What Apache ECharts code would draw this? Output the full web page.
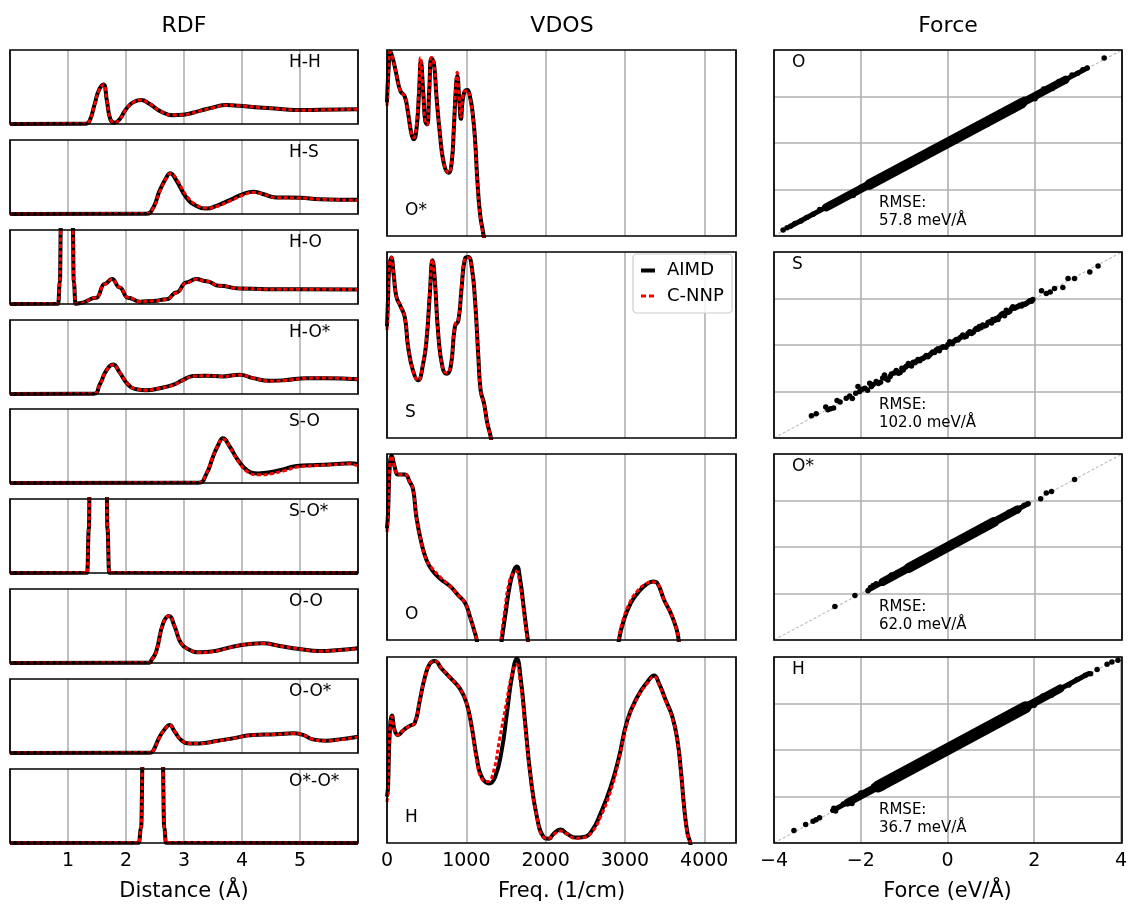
<!DOCTYPE html>
<html><head><meta charset="utf-8">
<script src="https://cdn.jsdelivr.net/npm/echarts@6/dist/echarts.min.js"></script>
<style>html,body{margin:0;padding:0;background:#fff}#c{width:1130px;height:907px}</style>
</head><body><div id="c"></div>
<script>
// ===================== DATA =====================
const columnTitles = ['RDF', 'VDOS', 'Force'];
const axisNames = ['Distance (Å)', 'Freq. (1/cm)', 'Force (eV/Å)'];
const seriesNames = ['AIMD', 'C-NNP'];

// ---- RDF g(r): [r (Å), g] ----
const rdfLabels = ['H-H', 'H-S', 'H-O', 'H-O*', 'S-O', 'S-O*', 'O-O', 'O-O*', 'O*-O*'];
const rdfTicks = [1, 2, 3, 4, 5];

const rdfHH_aimd = [[0,0],[1.3,0.02],[1.37,0.2],[1.46,1.35],[1.53,2.26],[1.61,2.67],[1.67,1.58],[1.73,0.32],[1.8,0.09],[1.89,0.32],[2.0,1.0],[2.12,1.46],[2.26,1.62],[2.41,1.35],[2.58,0.89],[2.81,0.59],[2.98,0.62],[3.27,0.89],[3.5,1.12],[3.73,1.28],[3.96,1.23],[4.3,1.12],[4.71,1.0],[5.0,0.94],[5.34,0.96],[6.0,1.0]];
const rdfHH_nnp  = [[0,0],[1.3,0.02],[1.37,0.2],[1.46,1.32],[1.53,2.24],[1.61,2.66],[1.67,1.6],[1.73,0.34],[1.8,0.1],[1.89,0.3],[2.0,0.98],[2.12,1.45],[2.26,1.62],[2.41,1.36],[2.58,0.9],[2.81,0.6],[2.98,0.62],[3.27,0.88],[3.5,1.1],[3.73,1.27],[3.96,1.24],[4.3,1.12],[4.71,1.0],[5.0,0.93],[5.34,0.95],[6.0,1.0]];

const rdfHS_aimd = [[0,0],[2.35,0.02],[2.47,0.43],[2.58,1.58],[2.7,2.49],[2.76,2.76],[2.87,2.26],[3.04,1.12],[3.21,0.55],[3.39,0.37],[3.56,0.55],[3.79,0.94],[4.02,1.35],[4.19,1.51],[4.36,1.35],[4.59,1.12],[5.0,1.1],[5.34,1.0],[6.0,0.96]];
const rdfHS_nnp  = [[0,0],[2.35,0.02],[2.47,0.4],[2.58,1.5],[2.7,2.45],[2.77,2.74],[2.88,2.3],[3.05,1.2],[3.22,0.6],[3.4,0.4],[3.57,0.52],[3.8,0.88],[4.03,1.3],[4.2,1.46],[4.37,1.33],[4.6,1.1],[5.0,1.08],[5.34,1.0],[6.0,0.93]];

const rdfHO_aimd = [[0,0],[0.83,0.01],[0.86,1.5],[0.88,6],[0.98,14],[1.08,6],[1.1,1.5],[1.13,0.02],[1.2,0.05],[1.49,0.43],[1.63,1.35],[1.76,1.69],[1.89,1.12],[2.03,0.43],[2.24,0.16],[2.47,0.2],[2.7,0.32],[2.87,0.78],[3.04,1.46],[3.21,1.69],[3.39,1.53],[3.61,1.23],[3.96,1.05],[4.42,1.0],[5.0,1.0],[6.0,0.98]];
const rdfHO_nnp  = [[0,0],[0.83,0.01],[0.86,1.5],[0.88,6],[0.98,14],[1.08,6],[1.1,1.5],[1.13,0.02],[1.2,0.05],[1.49,0.42],[1.63,1.33],[1.76,1.68],[1.89,1.13],[2.03,0.45],[2.24,0.17],[2.47,0.2],[2.7,0.31],[2.87,0.75],[3.04,1.42],[3.21,1.67],[3.39,1.54],[3.61,1.24],[3.96,1.05],[4.42,1.0],[5.0,1.0],[6.0,0.98]];

const rdfHOs_aimd = [[0,0],[1.44,0.02],[1.55,0.66],[1.66,1.58],[1.78,1.99],[1.89,1.46],[2.03,0.66],[2.18,0.32],[2.35,0.25],[2.58,0.39],[2.81,0.62],[2.98,0.94],[3.16,1.21],[3.39,1.23],[3.67,1.19],[3.96,1.3],[4.19,1.07],[4.48,0.89],[4.76,0.94],[5.11,1.07],[5.45,1.07],[6.0,1.0]];
const rdfHOs_nnp  = [[0,0],[1.44,0.02],[1.55,0.64],[1.66,1.56],[1.78,1.98],[1.89,1.47],[2.03,0.68],[2.18,0.33],[2.35,0.26],[2.58,0.39],[2.81,0.6],[2.98,0.92],[3.16,1.2],[3.39,1.24],[3.67,1.18],[3.96,1.29],[4.19,1.08],[4.48,0.88],[4.76,0.93],[5.11,1.06],[5.45,1.08],[6.0,1.0]];

const rdfSO_aimd = [[0,0],[3.25,0.02],[3.39,0.65],[3.5,1.78],[3.59,2.57],[3.67,3.02],[3.79,2.45],[3.93,1.55],[4.1,0.83],[4.28,0.65],[4.48,0.72],[4.71,0.92],[4.94,1.15],[5.28,1.22],[5.57,1.26],[5.86,1.33],[6.0,1.28]];
const rdfSO_nnp  = [[0,0],[3.25,0.02],[3.38,0.6],[3.49,1.7],[3.58,2.5],[3.67,2.98],[3.8,2.35],[3.94,1.45],[4.1,0.75],[4.3,0.55],[4.5,0.62],[4.72,0.82],[4.95,1.08],[5.28,1.18],[5.57,1.24],[5.86,1.3],[6.0,1.12]];

const rdfSOs_aimd = [[0,0],[1.33,0.01],[1.36,3],[1.38,10],[1.52,25],[1.66,10],[1.68,3],[1.71,0.01],[6.0,0]];
const rdfSOs_nnp  = [[0,0],[1.33,0.01],[1.36,3],[1.38,10],[1.52,25],[1.66,10],[1.68,3],[1.71,0.01],[6.0,0]];

const rdfOO_aimd = [[0,0],[2.4,0.02],[2.44,0.2],[2.52,0.77],[2.64,2.68],[2.74,3.18],[2.84,2.45],[2.95,1.33],[3.1,0.88],[3.27,0.72],[3.56,0.83],[3.84,1.1],[4.13,1.28],[4.36,1.33],[4.65,1.15],[4.99,0.95],[5.34,0.81],[5.68,0.88],[6.0,0.99]];
const rdfOO_nnp  = [[0,0],[2.4,0.02],[2.44,0.2],[2.52,0.75],[2.64,2.66],[2.74,3.17],[2.84,2.47],[2.95,1.35],[3.1,0.88],[3.27,0.71],[3.56,0.82],[3.84,1.09],[4.13,1.28],[4.36,1.32],[4.65,1.15],[4.99,0.95],[5.34,0.8],[5.68,0.87],[6.0,0.98]];

const rdfOOs_aimd = [[0,0],[2.42,0.02],[2.47,0.16],[2.58,1.1],[2.68,1.67],[2.75,1.89],[2.84,1.44],[2.95,0.88],[3.1,0.65],[3.27,0.65],[3.56,0.81],[3.84,0.99],[4.19,1.22],[4.59,1.26],[4.88,1.33],[5.05,1.22],[5.22,0.92],[5.45,0.83],[5.68,0.92],[6.0,1.1]];
const rdfOOs_nnp  = [[0,0],[2.42,0.02],[2.47,0.15],[2.58,1.07],[2.68,1.65],[2.75,1.88],[2.84,1.45],[2.95,0.9],[3.1,0.65],[3.27,0.64],[3.56,0.8],[3.84,0.98],[4.19,1.21],[4.59,1.26],[4.88,1.32],[5.05,1.23],[5.22,0.93],[5.45,0.82],[5.68,0.9],[6.0,1.08]];

const rdfOsOs_aimd = [[0,0],[2.22,0.01],[2.26,1.0],[2.29,6],[2.46,25],[2.63,6],[2.66,1.0],[2.69,0.01],[6.0,0]];
const rdfOsOs_nnp  = [[0,0],[2.22,0.01],[2.26,1.0],[2.29,6],[2.46,25],[2.63,6],[2.66,1.0],[2.69,0.01],[6.0,0]];

// ---- VDOS: [frequency (1/cm), normalised intensity] ----
const vdosLabels = ['O*', 'S', 'O', 'H'];
const vdosTicks = [0, 1000, 2000, 3000, 4000];

const vdosOs_aimd = [[0,0.72],[20,0.9],[42,0.99],[76,0.95],[118,0.87],[169,0.78],[224,0.75],[266,0.66],[308,0.55],[338,0.52],[371,0.57],[405,0.78],[426,0.94],[456,0.78],[481,0.62],[506,0.6],[532,0.78],[561,0.955],[591,0.93],[624,0.75],[667,0.55],[717,0.39],[776,0.34],[814,0.39],[844,0.59],[869,0.8],[886,0.86],[911,0.73],[932,0.63],[954,0.73],[983,0.78],[1013,0.785],[1046,0.75],[1080,0.66],[1110,0.52],[1139,0.3],[1173,0.12],[1215,0.01],[1250,-0.1],[1300,-0.3]];
const vdosOs_nnp  = [[0,0.7],[20,0.9],[42,0.99],[76,0.95],[118,0.87],[169,0.78],[224,0.75],[266,0.66],[308,0.55],[338,0.53],[371,0.6],[405,0.82],[422,0.96],[450,0.8],[481,0.61],[506,0.6],[532,0.78],[561,0.96],[591,0.93],[624,0.75],[667,0.55],[717,0.39],[776,0.34],[814,0.4],[844,0.62],[869,0.82],[884,0.88],[911,0.74],[932,0.64],[954,0.74],[983,0.78],[1013,0.78],[1046,0.74],[1080,0.65],[1110,0.5],[1139,0.29],[1173,0.11],[1215,0.0],[1250,-0.1],[1300,-0.3]];

const vdosS_aimd = [[0,0.6],[13,0.75],[25,0.9],[55,0.97],[84,0.88],[118,0.76],[169,0.71],[224,0.65],[266,0.49],[329,0.36],[392,0.31],[456,0.4],[498,0.525],[540,0.776],[574,0.955],[603,0.85],[646,0.56],[700,0.38],[751,0.346],[802,0.38],[857,0.6],[899,0.63],[941,0.81],[983,0.964],[1025,0.973],[1068,0.92],[1110,0.74],[1152,0.435],[1181,0.256],[1224,0.185],[1266,0.077],[1308,0.005],[1340,-0.1],[1400,-0.3]];
const vdosS_nnp  = [[0,0.58],[13,0.74],[25,0.9],[55,0.97],[84,0.88],[118,0.76],[169,0.71],[224,0.65],[266,0.49],[329,0.36],[392,0.31],[456,0.41],[498,0.54],[540,0.79],[572,0.96],[603,0.84],[646,0.55],[700,0.38],[751,0.35],[802,0.39],[857,0.61],[899,0.64],[941,0.82],[983,0.965],[1025,0.97],[1068,0.91],[1110,0.73],[1152,0.43],[1181,0.25],[1224,0.18],[1266,0.075],[1308,0.0],[1340,-0.1],[1400,-0.3]];

const vdosO_aimd = [[0,0.6],[13,0.68],[34,0.93],[59,0.99],[97,0.93],[139,0.89],[224,0.89],[287,0.85],[329,0.81],[371,0.66],[435,0.52],[498,0.43],[561,0.38],[667,0.33],[793,0.29],[899,0.24],[983,0.2],[1046,0.126],[1097,0.054],[1131,0],[1180,-0.15],[1300,-0.4],[1400,-0.15],[1447,0],[1489,0.126],[1553,0.305],[1603,0.377],[1637,0.395],[1679,0.323],[1722,0.18],[1764,0.036],[1776,0],[1820,-0.15],[2500,-0.5],[2880,-0.15],[2924,0],[2987,0.108],[3072,0.197],[3156,0.25],[3262,0.296],[3359,0.314],[3409,0.305],[3494,0.215],[3578,0.144],[3641,0.072],[3671,0.018],[3700,-0.1],[3800,-0.3]];
const vdosO_nnp  = [[0,0.58],[13,0.68],[34,0.93],[59,0.99],[97,0.93],[139,0.89],[224,0.89],[287,0.85],[329,0.81],[371,0.66],[435,0.52],[498,0.43],[561,0.39],[667,0.34],[793,0.29],[899,0.24],[983,0.2],[1046,0.126],[1097,0.054],[1131,0],[1180,-0.15],[1300,-0.4],[1390,-0.15],[1435,0],[1478,0.14],[1545,0.32],[1600,0.362],[1630,0.37],[1672,0.31],[1715,0.18],[1760,0.03],[1776,0],[1820,-0.15],[2500,-0.5],[2875,-0.15],[2918,0],[2982,0.115],[3065,0.205],[3150,0.26],[3255,0.3],[3350,0.312],[3405,0.305],[3490,0.22],[3575,0.147],[3641,0.07],[3671,0.015],[3700,-0.1],[3800,-0.3]];

const vdosH_aimd = [[0,0.25],[13,0.3],[34,0.59],[63,0.686],[97,0.605],[139,0.58],[203,0.605],[287,0.63],[350,0.645],[414,0.767],[477,0.89],[540,0.964],[603,0.978],[688,0.937],[793,0.89],[920,0.83],[1004,0.75],[1068,0.624],[1131,0.46],[1194,0.355],[1287,0.32],[1363,0.355],[1447,0.5],[1511,0.695],[1574,0.89],[1637,0.99],[1688,0.875],[1743,0.64],[1806,0.373],[1890,0.14],[1975,0.032],[2038,0.023],[2101,0.05],[2186,0.073],[2270,0.05],[2376,0.029],[2481,0.032],[2586,0.068],[2692,0.158],[2819,0.3],[2924,0.46],[3030,0.66],[3156,0.785],[3283,0.866],[3367,0.9],[3430,0.857],[3515,0.767],[3599,0.677],[3662,0.55],[3705,0.39],[3747,0.19],[3789,0.05],[3823,0],[3860,-0.15],[3950,-0.4]];
const vdosH_nnp  = [[0,0.22],[13,0.3],[34,0.59],[63,0.68],[97,0.605],[139,0.58],[203,0.605],[287,0.63],[350,0.645],[414,0.77],[477,0.89],[540,0.965],[603,0.978],[688,0.94],[793,0.89],[920,0.83],[1004,0.75],[1068,0.62],[1131,0.44],[1194,0.345],[1270,0.33],[1340,0.38],[1420,0.56],[1500,0.74],[1570,0.9],[1630,0.96],[1682,0.86],[1740,0.63],[1806,0.37],[1890,0.14],[1975,0.03],[2038,0.025],[2101,0.045],[2186,0.065],[2270,0.048],[2376,0.025],[2481,0.03],[2586,0.06],[2692,0.14],[2819,0.28],[2924,0.45],[3030,0.65],[3156,0.78],[3283,0.86],[3367,0.895],[3430,0.85],[3515,0.76],[3599,0.67],[3662,0.545],[3705,0.385],[3747,0.185],[3789,0.045],[3823,0],[3860,-0.15],[3950,-0.4]];

// ---- Force parity: [AIMD force, C-NNP force] (eV/Å) ----
const forceLabels = ['O', 'S', 'O*', 'H'];
const forceRMSE = ['57.8 meV/Å', '102.0 meV/Å', '62.0 meV/Å', '36.7 meV/Å'];
const forceTicks = [-4, -2, 0, 2, 4];
const diagLine = [[-4, -4], [4, 4]];

// extents of the dense, overlapping parts of each point cloud (thin / medium / thick)
const forceO_dense  = [[[-3.6,-3.56],[3.2,3.22]], [[-2.8,-2.77],[2.7,2.72]], [[-1.8,-1.78],[1.7,1.72]]];
const forceS_dense  = [];
const forceOs_dense = [[[-1.82,-1.84],[1.84,1.86]], [[-1.5,-1.5],[1.6,1.62]], [[-0.9,-0.9],[1.05,1.07]]];
const forceH_dense  = [[[-2.65,-2.6],[3.25,3.28]], [[-2.3,-2.26],[2.6,2.64]], [[-1.6,-1.57],[1.8,1.84]]];

const forceO_pts = [[-3.79,-3.74],[-3.7,-3.64],[-3.62,-3.58],[-3.52,-3.46],[-3.38,-3.36],[-3.25,-3.2],[-3.1,-3.06],[-2.95,-2.86],[-2.82,-2.8],[-2.7,-2.62],[-2.55,-2.52],[-2.42,-2.34],[-2.3,-2.22],[-2.18,-2.26],[-2.0,-1.9],[-1.8,-1.88],[-1.6,-1.48],[-1.3,-1.38],[-1.05,-0.92],[-0.7,-0.78],[-0.4,-0.28],[0.2,0.1],[0.5,0.62],[0.9,0.8],[1.2,1.32],[1.5,1.4],[1.75,1.88],[2.0,1.9],[2.2,2.32],[2.4,2.34],[2.55,2.64],[2.7,2.66],[2.85,2.93],[2.98,3.0],[3.1,3.15],[3.2,3.23],[3.59,3.66]];
const forceS_pts = [[-3.14,-3.04],[-3.03,-2.96],[-2.81,-2.67],[-2.76,-2.79],[-2.7,-2.74],[-2.63,-2.71],[-2.55,-2.39],[-2.48,-2.45],[-2.34,-2.29],[-2.26,-2.19],[-2.2,-2.3],[-2.12,-2.08],[-2.07,-1.79],[-2.03,-2.0],[-1.97,-1.9],[-1.91,-1.86],[-1.85,-1.95],[-1.8,-1.64],[-1.76,-1.78],[-1.72,-1.7],[-1.65,-1.57],[-1.6,-1.66],[-1.55,-1.6],[-1.5,-1.42],[-1.46,-1.29],[-1.42,-1.45],[-1.38,-1.5],[-1.33,-1.35],[-1.3,-1.25],[-1.24,-1.2],[-1.19,-1.1],[-1.14,-1.22],[-1.1,-1.18],[-1.06,-1.0],[-1.03,-1.07],[-0.98,-0.96],[-0.95,-0.9],[-0.91,-0.8],[-0.88,-0.86],[-0.84,-0.9],[-0.8,-0.74],[-0.76,-0.76],[-0.73,-0.71],[-0.69,-0.62],[-0.65,-0.68],[-0.61,-0.6],[-0.57,-0.57],[-0.53,-0.52],[-0.5,-0.45],[-0.46,-0.5],[-0.42,-0.43],[-0.38,-0.36],[-0.35,-0.3],[-0.31,-0.32],[-0.27,-0.21],[-0.23,-0.16],[-0.2,-0.25],[-0.15,-0.12],[-0.11,-0.07],[-0.05,-0.1],[0.0,0.02],[0.04,0.14],[0.07,0.1],[0.1,0.05],[0.15,0.17],[0.19,0.24],[0.23,0.22],[0.27,0.3],[0.31,0.36],[0.34,0.43],[0.38,0.34],[0.42,0.38],[0.46,0.5],[0.5,0.57],[0.54,0.5],[0.58,0.55],[0.62,0.64],[0.65,0.71],[0.69,0.68],[0.72,0.8],[0.76,0.74],[0.8,0.86],[0.84,0.82],[0.88,0.85],[0.92,0.97],[0.96,1.0],[1.0,0.95],[1.03,1.1],[1.07,1.05],[1.11,1.14],[1.15,1.1],[1.18,1.22],[1.22,1.3],[1.26,1.36],[1.3,1.26],[1.34,1.5],[1.38,1.4],[1.42,1.45],[1.46,1.56],[1.49,1.64],[1.53,1.58],[1.57,1.62],[1.61,1.66],[1.65,1.71],[1.69,1.68],[1.72,1.75],[1.76,1.74],[1.8,1.79],[1.84,1.84],[1.88,1.9],[1.92,1.88],[1.95,1.96],[2.15,2.33],[2.26,2.21],[2.35,2.28],[2.45,2.43],[2.64,2.47],[2.76,2.86],[2.91,2.86],[3.26,3.14],[3.45,3.4]];
const forceOs_pts = [[-2.6,-2.56],[-2.14,-2.09],[-1.84,-1.88],[-1.78,-1.74],[-1.72,-1.66],[-1.65,-1.58],[-1.5,-1.55],[-1.3,-1.2],[-0.9,-0.98],[-0.6,-0.5],[-0.3,-0.38],[0.1,0.22],[0.4,0.32],[0.8,0.9],[1.1,1.02],[1.4,1.5],[1.6,1.55],[1.75,1.8],[1.84,1.86],[2.13,2.08],[2.26,2.32],[2.38,2.39],[2.91,2.9]];
const forceH_pts = [[-3.54,-3.46],[-3.27,-3.2],[-3.1,-3.06],[-3.03,-3.0],[-2.95,-2.91],[-2.62,-2.5],[-2.58,-2.62],[-2.4,-2.32],[-2.2,-2.3],[-2.0,-1.85],[-1.7,-1.55],[-1.5,-1.62],[-1.2,-1.05],[-0.8,-0.9],[-0.4,-0.26],[0.1,0.0],[0.3,0.45],[0.7,0.6],[1.0,1.15],[1.4,1.3],[1.7,1.85],[2.0,1.92],[2.2,2.32],[2.4,2.35],[2.6,2.7],[2.8,2.8],[2.99,3.03],[3.18,3.21],[3.3,3.28],[3.45,3.46],[3.68,3.69],[3.79,3.79],[3.93,3.86]];

// ===================== CHART =====================
const rdfSets = [
  [rdfHH_aimd, rdfHH_nnp], [rdfHS_aimd, rdfHS_nnp], [rdfHO_aimd, rdfHO_nnp],
  [rdfHOs_aimd, rdfHOs_nnp], [rdfSO_aimd, rdfSO_nnp], [rdfSOs_aimd, rdfSOs_nnp],
  [rdfOO_aimd, rdfOO_nnp], [rdfOOs_aimd, rdfOOs_nnp], [rdfOsOs_aimd, rdfOsOs_nnp]
];
const rdfSpiky = [false, false, true, false, false, true, false, false, true];
const vdosSets = [[vdosOs_aimd, vdosOs_nnp], [vdosS_aimd, vdosS_nnp], [vdosO_aimd, vdosO_nnp], [vdosH_aimd, vdosH_nnp]];
const forceSets = [
  {dense: forceO_dense, pts: forceO_pts, core: 10.5},
  {dense: forceS_dense, pts: forceS_pts, core: 10},
  {dense: forceOs_dense, pts: forceOs_pts, core: 10},
  {dense: forceH_dense, pts: forceH_pts, core: 12}
];

const FONT = 'DejaVu Sans';
const GRIDC = '#b0b0b0';
const grids = [], xAxes = [], yAxes = [], series = [], graphics = [];

function addGrid(g, xa, ya) {
  const idx = grids.length;
  grids.push(Object.assign({show: false, containLabel: false}, g));
  xAxes.push(Object.assign({gridIndex: idx, type: 'value', axisLine: {show: false}, axisTick: {show: false}}, xa));
  yAxes.push(Object.assign({gridIndex: idx, type: 'value', axisLine: {show: false}, axisTick: {show: false}, axisLabel: {show: false}}, ya));
  graphics.push({type: 'rect', shape: {x: g.left, y: g.top, width: g.width, height: g.height}, z: 60, silent: true,
    style: {fill: 'none', stroke: '#000', lineWidth: 1.7}});
  return idx;
}
function text(x, y, t, opts) {
  graphics.push({type: 'text', x: x, y: y, z: 100, silent: true,
    style: Object.assign({text: t, fill: '#000', fontFamily: FONT, fontSize: 17, verticalAlign: 'middle'}, opts || {})});
}
const tickLabelStyle = {color: '#000', fontSize: 19, fontFamily: FONT, margin: 9};
const nameStyle = {color: '#000', fontSize: 21, fontFamily: FONT};

function pairLines(idx, aimd, nnp, spiky) {
  const base = {type: 'line', xAxisIndex: idx, yAxisIndex: idx, smooth: 0.5, symbol: 'none', clip: true, animation: false, silent: true};
  if (spiky) base.smoothMonotone = 'x';
  series.push(Object.assign({name: seriesNames[0], data: aimd, z: 3,
    itemStyle: {color: '#000'}, lineStyle: {color: '#000', width: 4}}, base));
  series.push(Object.assign({name: seriesNames[1], data: nnp, z: 4,
    itemStyle: {color: '#ff0000'}, lineStyle: {color: '#ff0000', width: 3, type: [4, 2.5]}}, base));
}

// ---- RDF column ----
const rdfTops = [50, 140, 230, 320, 409, 499, 589, 679, 769];
rdfSets.forEach((s, i) => {
  const last = i === rdfSets.length - 1;
  const idx = addGrid({left: 10, top: rdfTops[i], width: 348, height: 74},
    {min: 0, max: 6, interval: 1,
     splitLine: {show: true, lineStyle: {color: GRIDC, width: 1.6}},
     axisLabel: Object.assign({show: last, formatter: v => rdfTicks.includes(v) ? String(v) : ''}, tickLabelStyle),
     name: last ? axisNames[0] : '', nameLocation: 'middle', nameGap: 38, nameTextStyle: nameStyle},
    {min: 0, max: 5, splitLine: {show: false}});
  pairLines(idx, s[0], s[1], rdfSpiky[i]);
  text(289, rdfTops[i] + 13, rdfLabels[i]);
});

// ---- VDOS column ----
const panTops = [50, 252, 454, 657];
vdosSets.forEach((s, i) => {
  const last = i === vdosSets.length - 1;
  const idx = addGrid({left: 387, top: panTops[i], width: 349, height: 186},
    {min: 0, max: 4400, interval: 1000,
     splitLine: {show: true, lineStyle: {color: GRIDC, width: 1.6}},
     axisLabel: Object.assign({show: last, formatter: v => vdosTicks.includes(v) ? String(v) : ''}, tickLabelStyle),
     name: last ? axisNames[1] : '', nameLocation: 'middle', nameGap: 38, nameTextStyle: nameStyle},
    {min: 0, max: 1, splitLine: {show: false}});
  pairLines(idx, s[0], s[1], false);
  text(405, panTops[i] + 186 - 25, vdosLabels[i]);
});

// ---- Force column ----
forceSets.forEach((s, i) => {
  const last = i === forceSets.length - 1;
  const idx = addGrid({left: 774, top: panTops[i], width: 348, height: 186},
    {min: -4, max: 4, interval: 2,
     splitLine: {show: true, lineStyle: {color: GRIDC, width: 1.6}},
     axisLabel: Object.assign({show: last, formatter: v => forceTicks.includes(v) ? (v < 0 ? '\u2212' + Math.abs(v) : String(v)) : ''}, tickLabelStyle),
     name: last ? axisNames[2] : '', nameLocation: 'middle', nameGap: 38, nameTextStyle: nameStyle},
    {min: -4, max: 4, interval: 2,
     splitLine: {show: true, lineStyle: {color: GRIDC, width: 1.6}}});
  series.push({type: 'line', xAxisIndex: idx, yAxisIndex: idx, data: diagLine, symbol: 'none', z: 2,
    lineStyle: {color: '#c0c0c0', width: 1.2, type: [3, 2]}, animation: false, silent: true});
  const widths = [5, 8, s.core];
  s.dense.forEach((seg, k) => {
    series.push({type: 'line', xAxisIndex: idx, yAxisIndex: idx, data: seg, symbol: 'none', z: 3,
      lineStyle: {color: '#000', width: widths[k], cap: 'round'}, animation: false, silent: true});
  });
  series.push({type: 'scatter', xAxisIndex: idx, yAxisIndex: idx, data: s.pts, symbol: 'circle', symbolSize: 5.5, z: 4,
    itemStyle: {color: '#000', opacity: 1}, animation: false, silent: true});
  text(792, panTops[i] + 13, forceLabels[i]);
  text(879, panTops[i] + 186 - 33, 'RMSE:', {fontSize: 15});
  text(879, panTops[i] + 186 - 14.5, forceRMSE[i], {fontSize: 15});
});

// ---- column titles ----
[184, 562, 948].forEach((x, i) => text(x, 26, columnTitles[i], {fontSize: 22, align: 'center'}));

// ---- legend (in the S VDOS panel) ----
graphics.push({type: 'rect', shape: {x: 633, y: 254, width: 99, height: 59, r: 4}, z: 90, silent: true,
  style: {fill: 'rgba(255,255,255,0.85)', stroke: '#cccccc', lineWidth: 1.2}});
graphics.push({type: 'line', shape: {x1: 641, y1: 270.5, x2: 655, y2: 270.5}, z: 91, silent: true,
  style: {stroke: '#000', lineWidth: 4}});
graphics.push({type: 'line', shape: {x1: 641, y1: 296, x2: 655, y2: 296}, z: 91, silent: true,
  style: {stroke: '#ff0000', lineWidth: 3, lineDash: [5, 3]}});
text(667, 270.5, seriesNames[0], {fontSize: 18});
text(667, 296, seriesNames[1], {fontSize: 18});

const chart = echarts.init(document.getElementById('c'), null, {renderer: 'canvas'});
chart.setOption({
  animation: false,
  backgroundColor: '#fff',
  textStyle: {fontFamily: FONT},
  grid: grids, xAxis: xAxes, yAxis: yAxes, series: series,
  graphic: graphics
});
</script></body></html>
